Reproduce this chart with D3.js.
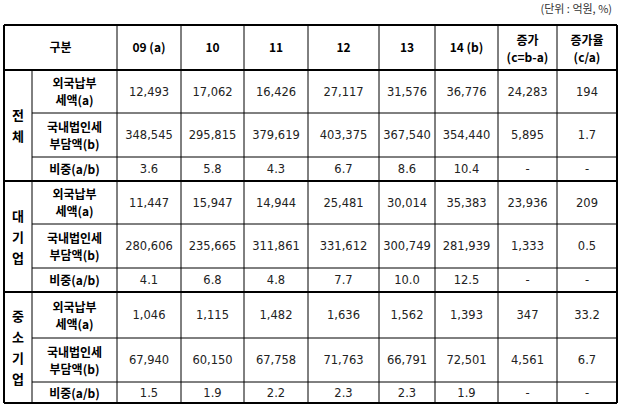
<!DOCTYPE html>
<html><head><meta charset="utf-8">
<script src="https://cdn.jsdelivr.net/npm/d3@7"></script>
<style>body{margin:0;background:#fff}</style></head>
<body><svg id="c" width="620" height="408"></svg>
<script>
const years = ["09 (a)","10","11","12","13","14 (b)"];
const extraHeads = [["증가","(c=b-a)"],["증가율","(c/a)"]];
const groups = ["전체","대기업","중소기업"];
const rowLabels = [["외국납부","세액(a)"],["국내법인세","부담액(b)"],["비중(a/b)"]];
const total_a = ["12,493","17,062","16,426","27,117","31,576","36,776","24,283","194"];
const total_b = ["348,545","295,815","379,619","403,375","367,540","354,440","5,895","1.7"];
const total_r = ["3.6","5.8","4.3","6.7","8.6","10.4","-","-"];
const large_a = ["11,447","15,947","14,944","25,481","30,014","35,383","23,936","209"];
const large_b = ["280,606","235,665","311,861","331,612","300,749","281,939","1,333","0.5"];
const large_r = ["4.1","6.8","4.8","7.7","10.0","12.5","-","-"];
const sme_a = ["1,046","1,115","1,482","1,636","1,562","1,393","347","33.2"];
const sme_b = ["67,940","60,150","67,758","71,763","66,791","72,501","4,561","6.7"];
const sme_r = ["1.5","1.9","2.2","2.3","2.3","1.9","-","-"];
const rows = [total_a,total_b,total_r,large_a,large_b,large_r,sme_a,sme_b,sme_r];

const svg = d3.select("#c");
const colX = [4,32,117,181,244,308,379,435,498,557,617];
const rowY = [25,70,113,157,181,224,268,292,338,382,403];
const lab = "'Noto Sans CJK KR', sans-serif";
const num = "'DejaVu Sans', sans-serif";

svg.append("text").attr("x",612).attr("y",13).attr("text-anchor","end")
  .attr("font-family",lab).attr("font-size",11).attr("fill","#333").text("(단위 : 억원, %)");

svg.append("text").attr("x",(colX[0]+colX[2])/2).attr("y",(rowY[0]+rowY[1])/2+4)
  .attr("text-anchor","middle").attr("font-family",lab).attr("font-weight","bold").attr("font-size",12).text("구분");
svg.selectAll(".yh").data(years).join("text")
  .attr("x",(d,i)=>(colX[i+2]+colX[i+3])/2).attr("y",(rowY[0]+rowY[1])/2+4)
  .attr("text-anchor","middle").attr("font-family",lab).attr("font-weight","bold").attr("font-size",12).text(d=>d);
extraHeads.forEach((h,k)=>{
  const cx=(colX[8+k]+colX[9+k])/2, cy=(rowY[0]+rowY[1])/2;
  h.forEach((t,j)=>svg.append("text").attr("x",cx).attr("y",cy-3+j*17).attr("text-anchor","middle")
    .attr("font-family",lab).attr("font-weight","bold").attr("font-size",12).text(t));
});

groups.forEach((g,gi)=>{
  const y0=rowY[1+gi*3], y1=rowY[4+gi*3], cx=(colX[0]+colX[1])/2;
  const ch=[...g], lh=21, start=(y0+y1)/2-(ch.length-1)*lh/2+5;
  svg.selectAll(null).data(ch).join("text").attr("x",cx).attr("y",(d,i)=>start+i*lh)
    .attr("text-anchor","middle").attr("font-family",lab).attr("font-weight","bold").attr("font-size",13).text(d=>d);
  rowLabels.forEach((rl,ri)=>{
    const ya=rowY[1+gi*3+ri], yb=rowY[2+gi*3+ri], cy=(ya+yb)/2;
    rl.forEach((t,j)=>svg.append("text").attr("x",(colX[1]+colX[2])/2)
      .attr("y",cy+5+(j-(rl.length-1)/2)*17).attr("text-anchor","middle")
      .attr("font-family",lab).attr("font-weight","bold").attr("font-size",12).text(t));
  });
});

rows.forEach((r,ri)=>{
  svg.selectAll(null).data(r).join("text")
    .attr("x",(d,i)=>(colX[i+2]+colX[i+3])/2).attr("y",(rowY[ri+1]+rowY[ri+2])/2+4)
    .attr("text-anchor","middle").attr("font-family",num).attr("font-size",11.5).attr("fill","#222").text(d=>d);
});

const thick=[0,1,4,7,10];
rowY.forEach((y,i)=>{
  const x0 = (i===0||thick.includes(i))?colX[0]:colX[1];
  svg.append("line").attr("x1",x0).attr("x2",colX[10]).attr("y1",y).attr("y2",y)
    .attr("stroke","#000").attr("stroke-width",thick.includes(i)?2:1);
});
colX.forEach((x,i)=>{
  svg.append("line").attr("x1",x).attr("x2",x).attr("y1",i===1?rowY[1]:rowY[0]).attr("y2",rowY[10])
    .attr("stroke","#000").attr("stroke-width",(i===0||i===10)?2:1);
});
</script></body></html>
